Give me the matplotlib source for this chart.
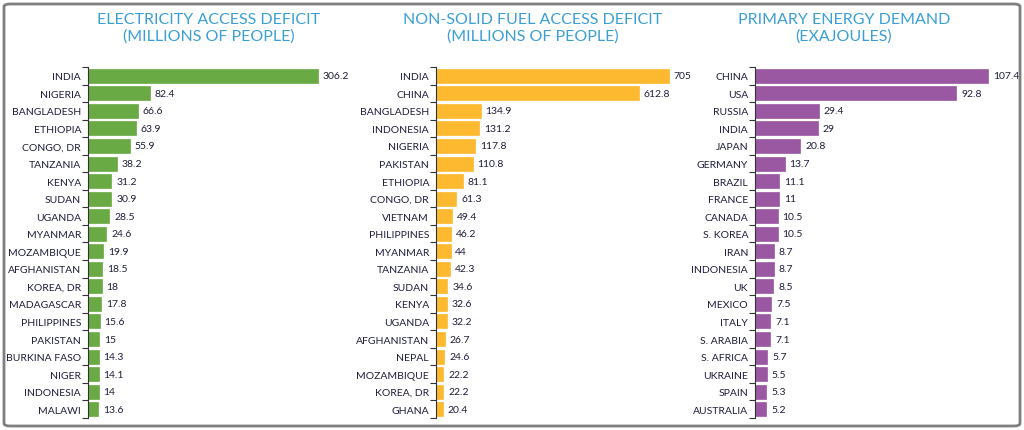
import matplotlib
matplotlib.use("Agg")
import matplotlib.pyplot as plt
from matplotlib.patches import FancyBboxPatch
import numpy as np

plt.rcParams['font.family'] = ['Lato', 'DejaVu Sans']

elec_countries = ["INDIA", "NIGERIA", "BANGLADESH", "ETHIOPIA", "CONGO, DR", "TANZANIA", "KENYA",
                  "SUDAN", "UGANDA", "MYANMAR", "MOZAMBIQUE", "AFGHANISTAN", "KOREA, DR", "MADAGASCAR",
                  "PHILIPPINES", "PAKISTAN", "BURKINA FASO", "NIGER", "INDONESIA", "MALAWI"]
elec_values = [306.2, 82.4, 66.6, 63.9, 55.9, 38.2, 31.2, 30.9, 28.5, 24.6, 19.9, 18.5, 18, 17.8,
               15.6, 15, 14.3, 14.1, 14, 13.6]

fuel_countries = ["INDIA", "CHINA", "BANGLADESH", "INDONESIA", "NIGERIA", "PAKISTAN", "ETHIOPIA",
                  "CONGO, DR", "VIETNAM", "PHILIPPINES", "MYANMAR", "TANZANIA", "SUDAN", "KENYA",
                  "UGANDA", "AFGHANISTAN", "NEPAL", "MOZAMBIQUE", "KOREA, DR", "GHANA"]
fuel_values = [705, 612.8, 134.9, 131.2, 117.8, 110.8, 81.1, 61.3, 49.4, 46.2, 44, 42.3, 34.6, 32.6,
               32.2, 26.7, 24.6, 22.2, 22.2, 20.4]

energy_countries = ["CHINA", "USA", "RUSSIA", "INDIA", "JAPAN", "GERMANY", "BRAZIL", "FRANCE",
                    "CANADA", "S. KOREA", "IRAN", "INDONESIA", "UK", "MEXICO", "ITALY", "S. ARABIA",
                    "S. AFRICA", "UKRAINE", "SPAIN", "AUSTRALIA"]
energy_values = [107.4, 92.8, 29.4, 29, 20.8, 13.7, 11.1, 11, 10.5, 10.5, 8.7, 8.7, 8.5, 7.5, 7.1,
                 7.1, 5.7, 5.5, 5.3, 5.2]

titles = ["ELECTRICITY ACCESS DEFICIT\n(MILLIONS OF PEOPLE)",
          "NON-SOLID FUEL ACCESS DEFICIT\n(MILLIONS OF PEOPLE)",
          "PRIMARY ENERGY DEMAND\n(EXAJOULES)"]

W, H = 1024, 431
fig = plt.figure(figsize=(W / 100, H / 100), dpi=100)

# rounded frame
frame = FancyBboxPatch((4 / W, 4 / H), 1016 / W, 422 / H, transform=fig.transFigure,
                       boxstyle="round,pad=0,rounding_size=0.006", fill=False,
                       edgecolor="#7f7f7f", linewidth=2)
fig.patches.append(frame)

# (left px, right px, xmax, title center px)
panels = [
    (88, 336, 306.2 * 248 / 230, 209, elec_countries, elec_values, "#6aaa44"),
    (436, 690, 705 * 254 / 233, 533, fuel_countries, fuel_values, "#fdb92f"),
    (755, 1011, 107.4 * 256 / 233, 844, energy_countries, energy_values, "#9a58a2"),
]

top_px, bot_px = 68, 419
label_color = "#1e1e3c"

for i, (lp, rp, xmax, tc, names, vals, col) in enumerate(panels):
    ax = fig.add_axes([lp / W, 1 - bot_px / H, (rp - lp) / W, (bot_px - top_px) / H])
    y = np.arange(len(names))
    ax.barh(y, vals, height=0.8, color=col, edgecolor=col, linewidth=0.5)
    ax.set_xlim(0, xmax)
    ax.set_ylim(len(names) - 0.5, -0.5)
    for s in ["top", "right", "bottom"]:
        ax.spines[s].set_visible(False)
    ax.spines["left"].set_color("#333333")
    ax.spines["left"].set_linewidth(0.8)
    ax.set_xticks([])
    ax.set_yticks(y)
    ax.set_yticklabels(names, fontsize=7.5, color=label_color)
    ax.tick_params(axis="y", which="major", length=0, pad=5)
    ax.set_yticks(np.arange(-0.5, len(names)), minor=True)
    ax.tick_params(axis="y", which="minor", length=4, width=0.8, color="#333333")
    ax.patch.set_alpha(0)
    for yy, v in zip(y, vals):
        ax.annotate(f"{v:g}", (v, yy), xytext=(3.5, 0), textcoords="offset points",
                    va="center", ha="left", fontsize=7.5, color=label_color)
    fig.text(tc / W, 1 - 28.5 / H, titles[i], ha="center", va="center", fontsize=11.5,
             color="#3a9fd6", linespacing=1.25)

fig.savefig("out.png", dpi=100)
